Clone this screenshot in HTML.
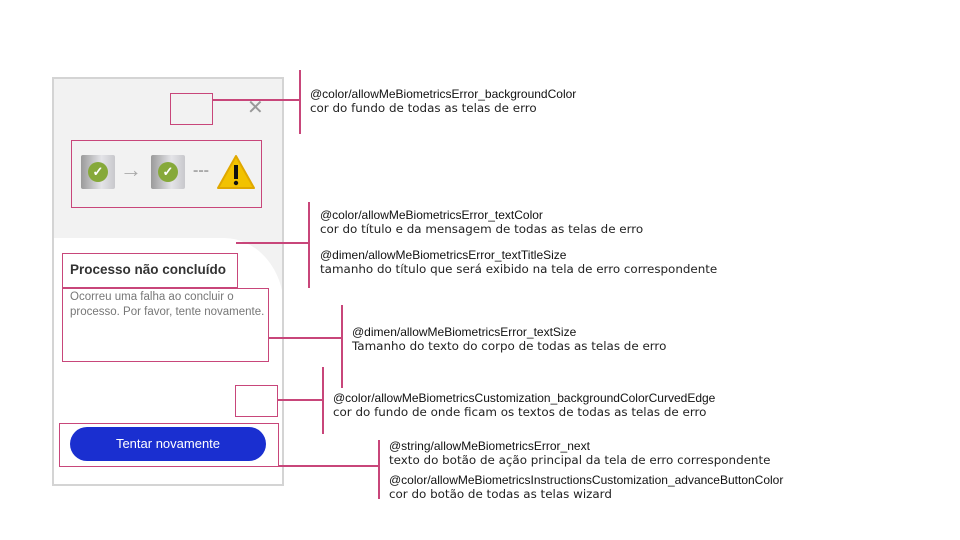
<!DOCTYPE html>
<html><head><meta charset="utf-8"><style>
body{margin:0;width:960px;height:540px;background:#fff;position:relative;overflow:hidden;font-family:"Liberation Sans",sans-serif}
.a{position:absolute}
.m{position:absolute;background:#c8467a}
.bx{position:absolute;border:1px solid #c8467a;box-sizing:border-box}
.t{position:absolute;font-family:"DejaVu Sans",sans-serif;font-size:11.9px;color:#222;white-space:nowrap;line-height:14px}
.t b{font-family:"Liberation Sans",sans-serif;font-weight:normal;font-size:12px;color:#111}
.ic{position:absolute;width:34px;height:34px;background:linear-gradient(90deg,#9a9a9a,#e4e4e8 60%,#c8c8cc);border-radius:2px}
.ck{position:absolute;left:7px;top:7px;width:20px;height:20px;border-radius:50%;background:#86a93a;color:#fff;font-size:13px;text-align:center;line-height:20px;font-weight:bold}
</style></head><body>
<div class="a" style="left:52px;top:77px;width:232px;height:409px;border:2px solid #d4d4d4;box-sizing:border-box;background:#f2f2f2;overflow:hidden">
 <div class="a" style="left:0;top:159px;width:230px;height:250px;background:#fff;border-top-right-radius:60px 70px"></div>
 <div class="a" style="left:193px;top:16px;color:#999;font-size:20px">✕</div>
</div>
<div class="ic" style="left:81px;top:155px"><div class="ck">✓</div></div>
<div class="a" style="left:120px;top:157px;color:#aaa;font-size:22px">→</div>
<div class="ic" style="left:151px;top:155px"><div class="ck">✓</div></div>
<div class="a" style="left:193px;top:162px;color:#aaa;font-size:16px;font-weight:bold">---</div>
<svg class="a" style="left:216px;top:154px" width="40" height="36"><polygon points="20,2 38,34 2,34" fill="#f2c200" stroke="#e0a800" stroke-width="2" stroke-linejoin="round"/><rect x="18" y="11" width="4" height="14" fill="#111"/><circle cx="20" cy="29" r="2.2" fill="#111"/></svg>
<div class="a" style="left:70px;top:262px;font-size:13.5px;font-weight:bold;color:#333">Processo não concluído</div>
<div class="a" style="left:70px;top:290px;font-size:11.5px;color:#777;line-height:15px">Ocorreu uma falha ao concluir o<br>processo. Por favor, tente novamente.</div>
<div class="a" style="left:70px;top:427px;width:196px;height:34px;border-radius:17px;background:#1a2fd0;color:#fff;font-size:13px;text-align:center;line-height:34px">Tentar novamente</div>

<div class="bx" style="left:170px;top:93px;width:43px;height:32px"></div>
<div class="bx" style="left:71px;top:140px;width:191px;height:68px"></div>
<div class="bx" style="left:62px;top:253px;width:176px;height:35px"></div>
<div class="bx" style="left:62px;top:288px;width:207px;height:74px"></div>
<div class="bx" style="left:235px;top:385px;width:43px;height:32px"></div>
<div class="bx" style="left:59px;top:423px;width:220px;height:44px"></div>

<div class="m" style="left:212px;top:99px;width:88px;height:2px"></div>
<div class="m" style="left:299px;top:70px;width:2px;height:64px"></div>
<div class="m" style="left:236px;top:242px;width:74px;height:2px"></div>
<div class="m" style="left:308px;top:202px;width:2px;height:86px"></div>
<div class="m" style="left:268px;top:337px;width:74px;height:2px"></div>
<div class="m" style="left:341px;top:305px;width:2px;height:83px"></div>
<div class="m" style="left:277px;top:399px;width:46px;height:2px"></div>
<div class="m" style="left:322px;top:367px;width:2px;height:67px"></div>
<div class="m" style="left:278px;top:465px;width:101px;height:2px"></div>
<div class="m" style="left:378px;top:440px;width:2px;height:59px"></div>

<div class="t" style="left:310px;top:87px"><b>@color/allowMeBiometricsError_backgroundColor</b><br>cor do fundo de todas as telas de erro</div>
<div class="t" style="left:320px;top:208px"><b>@color/allowMeBiometricsError_textColor</b><br>cor do título e da mensagem de todas as telas de erro</div>
<div class="t" style="left:320px;top:248px"><b>@dimen/allowMeBiometricsError_textTitleSize</b><br>tamanho do título que será exibido na tela de erro correspondente</div>
<div class="t" style="left:352px;top:325px"><b>@dimen/allowMeBiometricsError_textSize</b><br>Tamanho do texto do corpo de todas as telas de erro</div>
<div class="t" style="left:333px;top:391px"><b>@color/allowMeBiometricsCustomization_backgroundColorCurvedEdge</b><br>cor do fundo de onde ficam os textos de todas as telas de erro</div>
<div class="t" style="left:389px;top:439px"><b>@string/allowMeBiometricsError_next</b><br>texto do botão de ação principal da tela de erro correspondente</div>
<div class="t" style="left:389px;top:473px"><b>@color/allowMeBiometricsInstructionsCustomization_advanceButtonColor</b><br>cor do botão de todas as telas wizard</div>
</body></html>
